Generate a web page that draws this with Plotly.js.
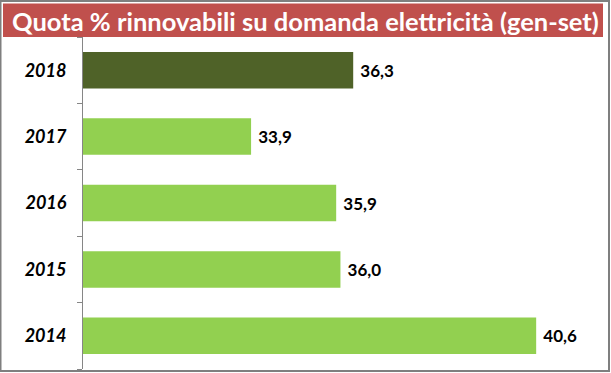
<!DOCTYPE html>
<html><head><meta charset="utf-8">
<script src="https://cdn.plot.ly/plotly-3.0.1.min.js"></script>
<style>html,body{margin:0;padding:0;background:#fff}</style>
</head><body>
<div id="chart" style="width:611px;height:373px"></div>
<script>
const years = ['2014', '2015', '2016', '2017', '2018'];
const values = [40.6, 36.0, 35.9, 33.9, 36.3];
const barColors = ['#92d050', '#92d050', '#92d050', '#92d050', '#4f6228'];
const titleText = 'Quota % rinnovabili su domanda elettricità (gen-set)';

const W = 611, H = 373;
const m = {l: 83, r: 11, t: 36.5, b: 4};
const pw = W - m.l - m.r, ph = H - m.t - m.b;
const px = x => (x - m.l) / pw;
const py = y => (H - m.b - y) / ph;

const trace = {
  type: 'bar', orientation: 'h',
  y: years, x: values,
  width: 0.55,
  marker: {color: barColors, line: {width: 0}},
  texttemplate: ' %{x:.1f}',
  textposition: 'outside',
  textfont: {family: 'Lato', size: 17, color: '#000', weight: 'bold'},
  cliponaxis: false,
  hoverinfo: 'skip'
};

const layout = {
  width: W, height: H,
  margin: m,
  separators: ', ',
  paper_bgcolor: '#fff', plot_bgcolor: '#fff',
  showlegend: false,
  xaxis: {range: [29.95, 42.1], showticklabels: false, showgrid: false, zeroline: false, showline: false, ticks: ''},
  yaxis: {
    type: 'category', showgrid: false, zeroline: false,
    showline: true, linecolor: '#868686', linewidth: 1,
    ticks: 'outside', ticklen: 5, tickcolor: '#868686', tickson: 'boundaries',
    ticklabelstandoff: 12,
    tickfont: {family: 'Lato', size: 18, color: '#000', weight: 'bold', style: 'italic'}
  },
  shapes: [
    {type: 'rect', xref: 'paper', yref: 'paper', x0: px(3), x1: px(603), y0: py(36.5), y1: py(3),
     fillcolor: '#c0504d', line: {width: 0}, layer: 'above'},
    {type: 'rect', xref: 'paper', yref: 'paper', x0: px(0.5), x1: px(609), y0: py(371), y1: py(0.5),
     fillcolor: 'rgba(0,0,0,0)', line: {width: 2, color: '#7f7f7f'}, layer: 'above'}
  ],
  annotations: [
    {text: titleText, xref: 'paper', yref: 'paper', x: px(305), y: py(20), xanchor: 'center', yanchor: 'middle',
     showarrow: false, font: {family: 'Lato', size: 25.5, color: '#fff', weight: 'bold'}}
  ]
};

Plotly.newPlot('chart', [trace], layout, {displayModeBar: false, staticPlot: true});
</script>
</body></html>
